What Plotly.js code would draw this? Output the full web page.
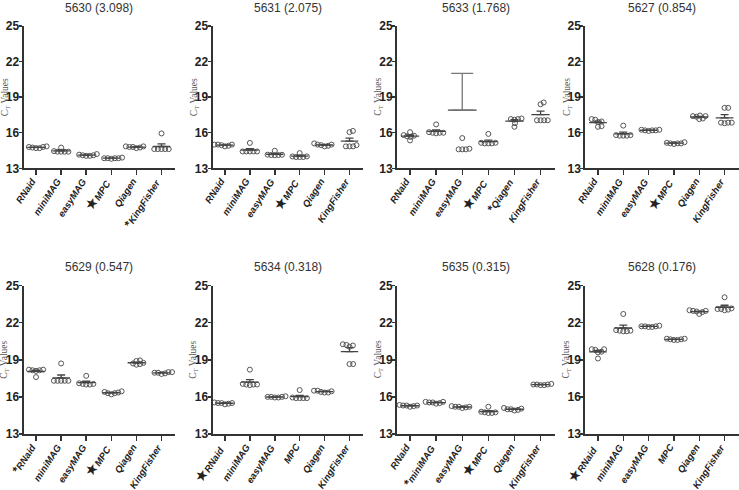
<!DOCTYPE html>
<html>
<head>
<meta charset="utf-8">
<script src="https://cdn.plot.ly/plotly-3.0.1.min.js"></script>
<style>html,body{margin:0;padding:0;background:#fff;}#chart{width:739px;height:490px;}</style>
</head>
<body>
<div id="chart"></div>
<script>
// ---------- DATA ----------
const categories = ['RNaid', 'miniMAG', 'easyMAG', 'MPC', 'Qiagen', 'KingFisher'];
const panelTitles = ['5630 (3.098)', '5631 (2.075)', '5633 (1.768)', '5627 (0.854)',
                     '5629 (0.547)', '5634 (0.318)', '5635 (0.315)', '5628 (0.176)'];
const yTicks = [13, 16, 19, 22, 25];
// index of the category marked with a big star / an asterisk in each panel (-1 = none)
const bigStarAt  = [3, 3, 3, 3, 3, 0, 3, 0];
const asteriskAt = [5, -1, 4, -1, 0, -1, 1, -1];

// CT values per category (RNaid, miniMAG, easyMAG, MPC, Qiagen, KingFisher)
const v5630 = [
  [14.7, 14.8, 14.85, 14.75, 14.7, 14.8],
  [14.4, 14.4, 14.4, 14.4, 14.45, 14.75],
  [14.05, 14.1, 14.1, 14.15, 14.2, 14.05],
  [13.85, 13.85, 13.85, 13.85, 13.9, 13.8],
  [14.75, 14.8, 14.85, 14.8, 14.7, 14.85],
  [14.62, 14.62, 14.62, 14.62, 14.62, 15.94]
];
const v5631 = [
  [14.95, 15.0, 15.0, 14.85, 15.0, 14.9],
  [14.42, 14.42, 14.42, 14.42, 14.42, 15.14],
  [14.12, 14.12, 14.14, 14.15, 14.48, 14.1],
  [13.95, 13.95, 14.0, 14.0, 14.28, 13.95],
  [14.95, 15.0, 15.0, 14.85, 15.1, 14.9],
  [16.15, 16.05, 14.85, 14.85, 14.85, 14.95]
];
const v5633 = [
  [16.05, 15.8, 15.7, 15.75, 15.65, 15.35],
  [16.0, 16.0, 15.95, 16.0, 16.05, 16.7],
  [14.6, 14.6, 14.6, 14.65, 15.55, 33.4],
  [15.1, 15.1, 15.1, 15.15, 15.15, 15.9],
  [17.15, 17.1, 17.15, 17.2, 16.8, 16.5],
  [17.05, 17.05, 17.05, 17.05, 18.55, 18.4]
];
const v5627 = [
  [17.1, 16.95, 16.9, 17.15, 16.5, 16.55],
  [15.75, 15.75, 15.8, 15.75, 15.8, 16.6],
  [16.2, 16.25, 16.2, 16.15, 16.25, 16.2],
  [15.05, 15.1, 15.1, 15.15, 15.1, 15.2],
  [17.4, 17.45, 17.35, 17.4, 17.2, 17.15],
  [16.85, 16.85, 16.85, 16.8, 18.1, 18.1]
];
const v5629 = [
  [18.15, 18.2, 18.2, 18.1, 18.15, 17.6],
  [17.3, 17.3, 17.3, 17.3, 17.3, 18.7],
  [17.05, 17.0, 17.05, 17.0, 17.1, 17.7],
  [16.3, 16.4, 16.35, 16.2, 16.45, 16.3],
  [18.7, 18.9, 18.95, 18.6, 18.75, 18.65],
  [17.95, 17.9, 18.0, 17.95, 17.85, 18.0]
];
const v5634 = [
  [15.5, 15.45, 15.5, 15.55, 15.4, 15.5],
  [17.0, 17.0, 16.95, 17.0, 17.05, 18.2],
  [16.0, 15.95, 16.0, 16.05, 16.0, 15.95],
  [15.9, 15.9, 15.9, 15.95, 15.9, 16.55],
  [16.4, 16.5, 16.45, 16.35, 16.5, 16.35],
  [20.25, 20.15, 20.05, 20.2, 18.65, 18.65]
];
const v5635 = [
  [15.3, 15.25, 15.3, 15.35, 15.2, 15.3],
  [15.55, 15.6, 15.5, 15.6, 15.45, 15.55],
  [15.2, 15.15, 15.25, 15.1, 15.2, 15.2],
  [14.75, 14.7, 14.75, 14.7, 14.8, 15.2],
  [15.0, 14.9, 15.05, 14.95, 15.1, 15.0],
  [17.0, 16.95, 17.0, 17.05, 16.95, 17.0]
];
const v5628 = [
  [19.85, 19.8, 19.85, 19.6, 19.65, 19.1],
  [21.35, 21.3, 21.3, 21.35, 21.4, 22.7],
  [21.7, 21.65, 21.7, 21.75, 21.65, 21.7],
  [20.65, 20.6, 20.7, 20.65, 20.6, 20.7],
  [22.9, 23.0, 22.95, 22.85, 22.7, 22.95],
  [23.1, 23.0, 23.15, 23.1, 23.05, 24.05]
];
const panelValues = [v5630, v5631, v5633, v5627, v5629, v5634, v5635, v5628];

// ---------- LAYOUT / STYLE ----------
const W = 739, H = 490;
const colPx = [[23.5, 175.3], [212.5, 363.2], [397, 554.9], [585.3, 738.5]];
const rowPx = [[26, 168.3], [285.5, 434]];
const titleYPx = [8, 267];
const xRange = [-0.5, 5.55];
const yRange = [13, 25];
const axisColor = '#333';
const dotColor = '#555';
const meanHalf = 0.35;
const swarmDist = 3.6;   // px between neighbouring dots
const labelAngle = -57;
const FONT = 'Liberation Sans, Arial, sans-serif';

function mean(a) { return a.reduce((s, v) => s + v, 0) / a.length; }
function sem(a) {
  const m = mean(a);
  const sd = Math.sqrt(a.reduce((s, v) => s + (v - m) * (v - m), 0) / (a.length - 1));
  return sd / Math.sqrt(a.length);
}
// simple beeswarm: returns x offsets in px
function swarm(vals, pxPerUnit, d) {
  const idx = vals.map((v, i) => i).sort((a, b) => vals[a] - vals[b]);
  const placed = [];
  const offs = new Array(vals.length).fill(0);
  for (const i of idx) {
    const y = vals[i] * pxPerUnit;
    const cands = [0];
    for (const p of placed) {
      const dy = Math.abs(p.y - y);
      if (dy < d) {
        const dx = Math.sqrt(d * d - dy * dy);
        cands.push(p.x + dx + 0.01, p.x - dx - 0.01);
      }
    }
    cands.sort((a, b) => Math.abs(a) - Math.abs(b) || b - a);
    let chosen = 0;
    for (const c of cands) {
      let ok = true;
      for (const p of placed) {
        const dx = p.x - c, dy = p.y - y;
        if (dx * dx + dy * dy < d * d - 0.001) { ok = false; break; }
      }
      if (ok) { chosen = c; break; }
    }
    placed.push({x: chosen, y: y});
    offs[i] = chosen;
  }
  return offs;
}

const traces = [];
const layout = {
  width: W, height: H,
  margin: {l: 0, r: 0, t: 0, b: 0},
  paper_bgcolor: '#fff', plot_bgcolor: '#fff',
  showlegend: false,
  font: {family: FONT, color: '#222'},
  annotations: []
};

panelValues.forEach((vals, p) => {
  const col = p % 4, row = Math.floor(p / 4);
  const n = p + 1;
  const xa = 'x' + (n === 1 ? '' : n), ya = 'y' + (n === 1 ? '' : n);
  const xKey = 'xaxis' + (n === 1 ? '' : n), yKey = 'yaxis' + (n === 1 ? '' : n);
  const [x0, x1] = colPx[col];
  const [t0, t1] = rowPx[row];
  const pxPerUnit = (t1 - t0) / (yRange[1] - yRange[0]);
  const pxPerCat = (x1 - x0) / (xRange[1] - xRange[0]);

  layout[xKey] = {
    domain: [x0 / W, x1 / W], anchor: ya, range: xRange,
    tickmode: 'array', tickvals: categories.map((c, i) => i), showticklabels: false,
    ticks: 'outside', ticklen: 5, tickwidth: 1.5, tickcolor: axisColor,
    showline: true, linecolor: axisColor, linewidth: 2,
    showgrid: false, zeroline: false, fixedrange: true, automargin: false
  };
  layout[yKey] = {
    domain: [(H - t1) / H, (H - t0) / H], anchor: xa, range: yRange,
    tickmode: 'array', tickvals: yTicks, ticktext: yTicks.map(String),
    tickfont: {size: 12, color: '#222', weight: 'bold', family: FONT},
    ticks: 'outside', ticklen: 3, tickwidth: 1.5, tickcolor: axisColor,
    ticklabelstandoff: -3,
    showline: true, linecolor: axisColor, linewidth: 2,
    showgrid: false, zeroline: false, fixedrange: true, automargin: false
  };

  // rotated category labels (bold italic) with star / asterisk marks
  categories.forEach((c, i) => {
    let s = '<b><i>' + c + '</i></b>';
    if (i === bigStarAt[p]) s = '<span style="font-size:15px">★</span>' + s;
    if (i === asteriskAt[p]) s = '<span style="font-size:12px"><b>*</b></span>' + s;
    layout.annotations.push({
      xref: xa, yref: 'paper', x: i, y: (H - t1) / H,
      xanchor: 'right', yanchor: 'top', xshift: 5, yshift: -5,
      textangle: labelAngle, showarrow: false, text: s,
      font: {size: 9.5, color: '#222', family: FONT}
    });
  });

  // panel title
  layout.annotations.push({
    xref: 'paper', yref: 'paper', x: ((x0 + x1) / 2) / W, y: (H - titleYPx[row]) / H,
    xanchor: 'center', yanchor: 'middle', showarrow: false,
    text: panelTitles[p], font: {size: 12, color: '#333', family: FONT}
  });
  // y-axis title
  layout.annotations.push({
    xref: 'paper', yref: 'paper', x: (x0 - 18.5) / W, y: (H - (t0 + t1) / 2) / H,
    xanchor: 'center', yanchor: 'middle', showarrow: false, textangle: -90,
    text: 'C<sub>T</sub> Values', font: {size: 9.5, color: '#555', family: 'Liberation Serif, Times New Roman, serif'}
  });

  vals.forEach((arr, ci) => {
    const offs = swarm(arr, pxPerUnit, swarmDist);
    traces.push({
      type: 'scatter', mode: 'markers', xaxis: xa, yaxis: ya,
      x: arr.map((v, k) => ci + offs[k] / pxPerCat), y: arr,
      marker: {symbol: 'circle-open', size: 5, color: dotColor, line: {width: 1, color: dotColor}},
      hoverinfo: 'y', cliponaxis: true
    });
    const m = mean(arr), s = sem(arr);
    const big = s > 1;
    const half = big ? 0.55 : meanHalf;
    traces.push({
      type: 'scatter', mode: 'lines', xaxis: xa, yaxis: ya,
      x: [ci - half, ci + half], y: [m, m],
      line: {color: '#444', width: 1.3}, hoverinfo: 'skip'
    });
    traces.push({
      type: 'scatter', mode: 'markers', xaxis: xa, yaxis: ya,
      x: [ci], y: [m],
      marker: {size: 1, opacity: 0},
      error_y: {type: 'data', symmetric: false, array: [s], arrayminus: [0],
                width: big ? 11 : 4, thickness: 1.3, color: big ? '#777' : '#444'},
      hoverinfo: 'skip'
    });
  });
});

Plotly.newPlot('chart', traces, layout, {staticPlot: true, displayModeBar: false});
</script>
</body>
</html>
